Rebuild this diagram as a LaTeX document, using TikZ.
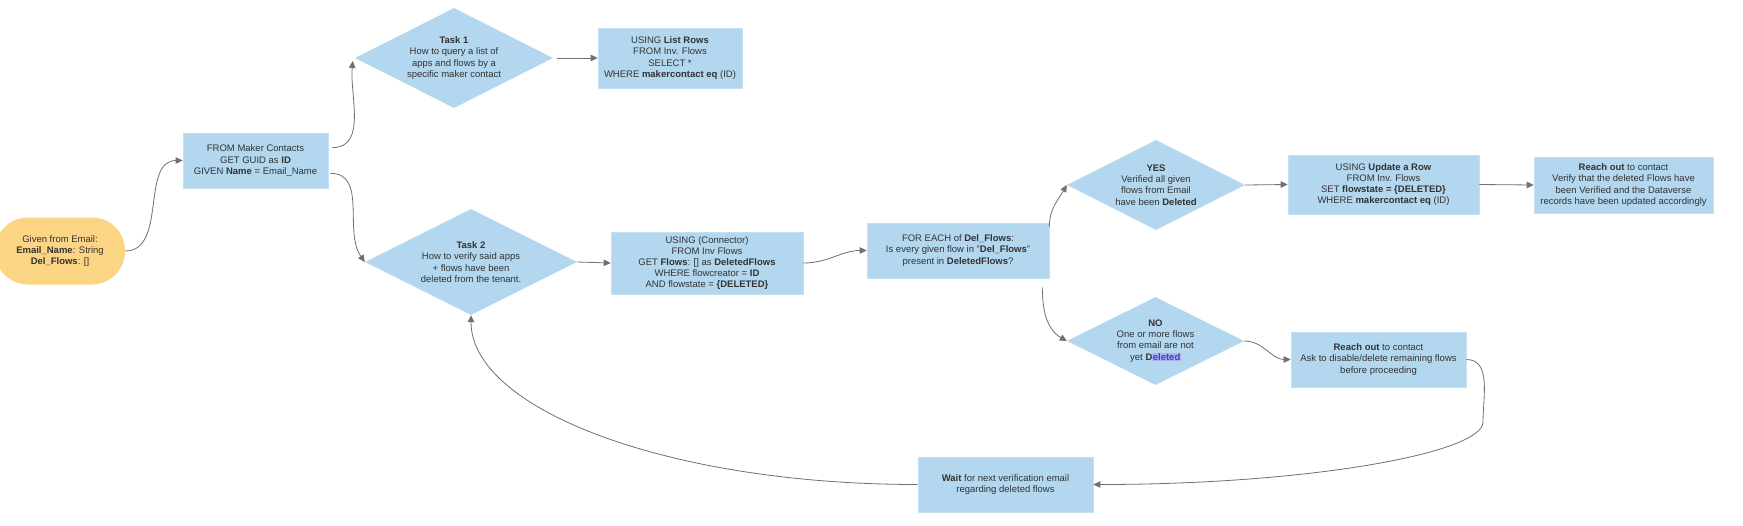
\documentclass[tikz,border=0pt]{standalone}
\usepackage{fontspec}
\setmainfont{Liberation Sans}
\definecolor{flowBlue}{HTML}{B2D7EE}
\definecolor{flowEdge}{HTML}{C4E0F3}
\definecolor{flowYellow}{HTML}{FCD584}
\definecolor{flowText}{HTML}{333333}
\definecolor{flowLine}{HTML}{707070}
\definecolor{flowSelect}{HTML}{A9B3F3}
\definecolor{flowSelectText}{HTML}{4B3FA8}
\newcommand{\flowfont}{\fontsize{9.5}{11.2}\selectfont}
\newcommand{\selmark}[1]{{\setlength{\fboxsep}{0.5pt}\colorbox{flowSelect}{\textcolor{flowSelectText}{#1}}}}
\usetikzlibrary{
	arrows.meta,
	shapes.geometric
}

\begin{document}
\begin{tikzpicture}[x=1pt, y=-1pt,
		flowbox/.style={rectangle, fill=flowBlue, draw=flowEdge, line width=0.6pt,
			align=center, inner sep=1pt, text=flowText, font=\flowfont},
		flowdiamond/.style={diamond, aspect=2, fill=flowBlue, inner sep=0pt,
			align=center, text=flowText, font=\flowfont},
		flowpill/.style={rectangle, rounded corners=33pt, fill=flowYellow,
			align=center, text=flowText, font=\flowfont,
			minimum width=130pt, minimum height=67pt},
		flowarrow/.style={draw=flowLine, line width=0.8pt,
			-{Triangle[length=7pt, width=6.5pt]}}
	]
	
	% Lienzo
	\path[use as bounding box, fill=white] (0,0) rectangle (1743,525);
	
	% Entrada
	\node[flowpill] (start) at (60,251)
		{Given from Email:\\\textbf{Email\_Name}: String\\\textbf{Del\_Flows}: []};
	\node[flowbox, minimum width=145pt, minimum height=55pt] (maker) at (255.5,160.5)
		{FROM Maker Contacts\\GET GUID as \textbf{ID}\\GIVEN \textbf{Name} = Email\_Name};
	
	% Tarea 1
	\node[flowdiamond, minimum width=198pt, minimum height=100pt] (task1) at (454,58)
		{\textbf{Task 1}\\How to query a list of\\apps and flows by a\\specific maker contact};
	\node[flowbox, minimum width=144pt, minimum height=60pt] (listrows) at (670,58)
		{USING \textbf{List Rows}\\FROM Inv. Flows\\SELECT *\\WHERE \textbf{makercontact eq} (ID)};
	
	% Tarea 2
	\node[flowdiamond, minimum width=212pt, minimum height=106pt] (task2) at (471,262)
		{\textbf{Task 2}\\How to verify said apps\\+ flows have been\\deleted from the tenant.};
	\node[flowbox, minimum width=192pt, minimum height=62pt] (conn) at (707,263)
		{USING (Connector)\\FROM Inv Flows\\GET \textbf{Flows}: [] as \textbf{DeletedFlows}\\WHERE flowcreator = \textbf{ID}\\AND flowstate = \textbf{\{DELETED\}}};
	\node[flowbox, minimum width=182pt, minimum height=55pt] (foreach) at (958,250.5)
		{FOR EACH of \textbf{Del\_Flows}:\\Is every given flow in "\textbf{Del\_Flows}"\\present in \textbf{DeletedFlows}?};
	
	% Rama YES
	\node[flowdiamond, minimum width=178pt, minimum height=90pt] (yes) at (1156,185)
		{\textbf{YES}\\Verified all given\\flows from Email\\have been \textbf{Deleted}};
	\node[flowbox, minimum width=191pt, minimum height=59pt] (update) at (1383.5,184.5)
		{USING \textbf{Update a Row}\\FROM Inv. Flows\\SET \textbf{flowstate = \{DELETED\}}\\WHERE \textbf{makercontact eq} (ID)};
	\node[flowbox, minimum width=179pt, minimum height=56pt] (reachtop) at (1623.5,185)
		{\textbf{Reach out} to contact\\Verify that the deleted Flows have\\been Verified and the Dataverse\\records have been updated accordingly};
	
	% Rama NO
	\node[flowdiamond, minimum width=177pt, minimum height=88pt] (no) at (1155.5,341)
		{\textbf{NO}\\One or more flows\\from email are not\\yet \textbf{D\selmark{eleted}}};
	\node[flowbox, minimum width=175pt, minimum height=55pt] (reachbot) at (1378.5,359.5)
		{\textbf{Reach out} to contact\\Ask to disable/delete remaining flows\\before proceeding};
	\node[flowbox, minimum width=175pt, minimum height=55pt] (wait) at (1005.5,484.5)
		{\textbf{Wait} for next verification email\\regarding deleted flows};
	\coordinate (bend) at (1483,422);
	
	% Conectores
	\draw[flowarrow] (start.east) to[out=0, in=180] (maker.west);
	\draw[flowarrow] ([xshift=4pt]maker.10) to[out=0, in=-95] ([xshift=-2pt, yshift=-3pt]task1.west);
	\draw[flowarrow] ([xshift=2pt]maker.-10) to[out=0, in=125] (task2.west);
	\draw[flowarrow] ([xshift=4pt]task1.east) -- (listrows.west);
	\draw[flowarrow] (task2.east) -- (conn.west);
	\draw[flowarrow] (conn.east) to[out=0, in=180] (foreach.west);
	\draw[flowarrow] ([yshift=-4pt]foreach.north east) to[out=90, in=-120] (yes.west);
	\draw[flowarrow] ([xshift=-7pt, yshift=-9pt]foreach.south east) to[out=-90, in=150] (no.west);
	\draw[flowarrow] (yes.east) -- (update.west);
	\draw[flowarrow] (update.east) -- (reachtop.west);
	\draw[flowarrow] (no.east) to[out=0, in=180] (reachbot.west);
	\draw[flowarrow] (reachbot.east) to[out=0, in=90] (bend)
		to[out=-90, in=0, out looseness=0.2, in looseness=1.4] (wait.east);
	\draw[flowarrow] (wait.west) to[out=180, in=-90, out looseness=1.35, in looseness=0.5] (task2.south);
	
\end{tikzpicture}
\end{document}
